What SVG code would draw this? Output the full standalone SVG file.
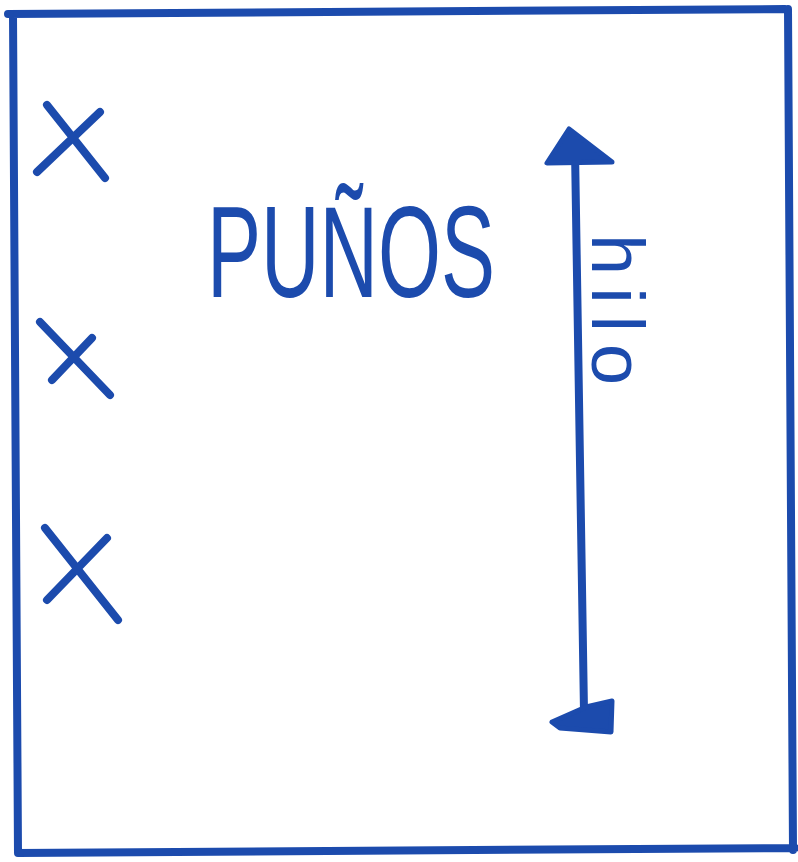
<svg xmlns="http://www.w3.org/2000/svg" width="798" height="862" viewBox="0 0 798 862">
<style>
.ink{fill:none;stroke:#1c4bad;stroke-width:8;stroke-linecap:round;stroke-linejoin:round}
.x{fill:none;stroke:#1c4bad;stroke-width:8;stroke-linecap:round}
.head{fill:#1c4bad;stroke:#1c4bad;stroke-width:5;stroke-linejoin:round}
.txt{fill:#1c4bad;font-family:"Liberation Sans","DejaVu Sans",sans-serif}
</style>
<rect width="798" height="862" fill="#ffffff"/>
<g id="border">
<path class="ink" d="M8,14 L785,9 M13,14 L18,853 M788,9 L793,850 M18,853 L795,848"/>
</g>
<g id="mark1"><path class="x" d="M47,105 L105,178 M100,112 L37,172"/></g>
<g id="mark2"><path class="x" d="M40,322 L110,395 M92,338 L52,380"/></g>
<g id="mark3"><path class="x" d="M45,528 L118,620 M107,538 L47,600"/></g>
<g id="label-punos">
<text class="txt" x="207" y="297" font-size="130" textLength="288" lengthAdjust="spacingAndGlyphs">PUÑOS</text>
</g>
<g id="connectors">
<path class="ink" d="M575,150 L584,712" stroke-width="6"/>
<path class="head" d="M569,129 L547,163 L612,162 Z"/>
<path class="head" d="M552,722 L586,707 L612,701 L611,732 L560,728 Z"/>
</g>
<g id="label-hilo">
<text class="txt" transform="translate(592,234) rotate(90)" font-size="74" letter-spacing="12">hilo</text>
</g>
</svg>
